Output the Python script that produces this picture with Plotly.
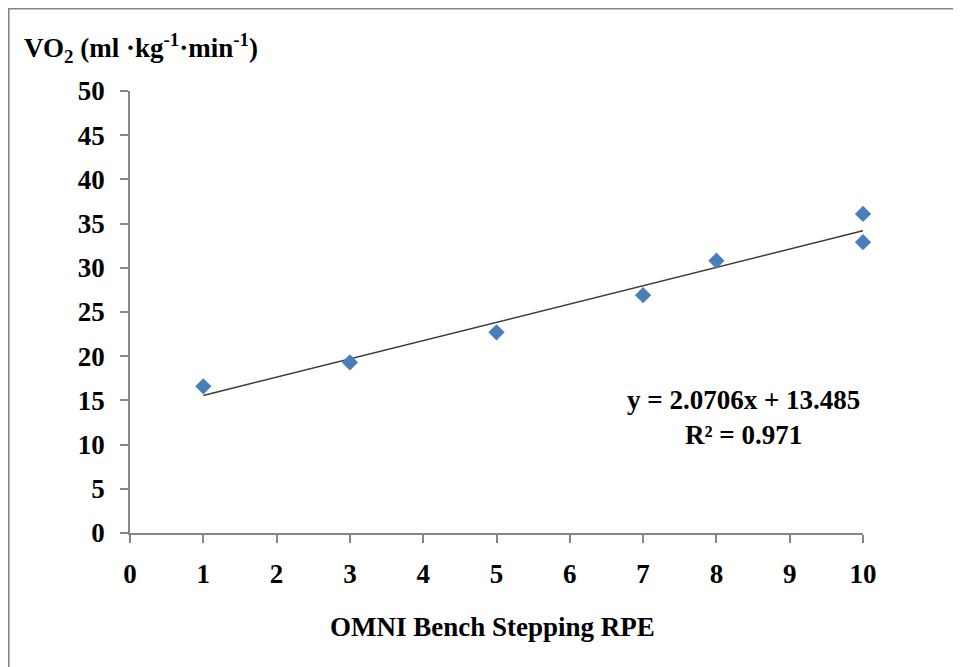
import plotly.graph_objects as go

# Data
rpe = [1, 3, 5, 7, 8, 10, 10]
vo2 = [16.6, 19.3, 22.7, 26.9, 30.8, 36.1, 32.9]

# Linear trendline as reported on the chart
slope = 2.0706
intercept = 13.485
r_squared = 0.971

x_ticks = list(range(0, 11))
y_ticks = list(range(0, 51, 5))

# The page body has an 8px default margin, so the figure is drawn 8px in.
OFF = 8
W, H = 961 - OFF, 667 - OFF
L, R, T, B = 122, 98, 83, 134

FONT = "Liberation Serif, Times New Roman, serif"
FS = 27
AXIS_COLOR = "#868686"

trend_x = [min(rpe), max(rpe)]
trend_y = [slope * x + intercept for x in trend_x]

fig = go.Figure()
fig.add_trace(go.Scatter(
    x=trend_x, y=trend_y, mode="lines",
    line=dict(color="#3a3a3a", width=1.5),
    hoverinfo="skip", showlegend=False, cliponaxis=False,
))
fig.add_trace(go.Scatter(
    x=rpe, y=vo2, mode="markers",
    marker=dict(symbol="diamond", size=12.5, color="#4A7EBB",
                line=dict(width=0)),
    showlegend=False, cliponaxis=False,
))

pw = W - L - R
ph = H - T - B
def px_x(px):
    # page pixel -> paper x
    return (px - OFF - L) / pw
def px_y(py):
    # page pixel -> paper y
    return (H - B - (py - OFF)) / ph

# Outer border (gray left & top edges)
fig.add_shape(type="line", xref="paper", yref="paper",
              x0=px_x(7), x1=px_x(975),
              y0=px_y(8.5), y1=px_y(8.5),
              line=dict(color="#858585", width=2.2))
fig.add_shape(type="line", xref="paper", yref="paper",
              x0=px_x(8.5), x1=px_x(8.5),
              y0=px_y(7.5), y1=px_y(690),
              line=dict(color="#858585", width=2.2))

fig.add_annotation(
    xref="paper", yref="paper",
    x=px_x(22), y=px_y(48),
    xanchor="left", yanchor="middle", showarrow=False,
    text="<b>VO<sub>2</sub> (ml ·kg<sup>-1</sup>·min<sup>-1</sup>)</b>",
    font=dict(family=FONT, size=FS, color="black"),
)
fig.add_annotation(
    xref="paper", yref="paper",
    x=px_x(492), y=px_y(627),
    xanchor="center", yanchor="middle", showarrow=False,
    text="<b>OMNI Bench Stepping RPE</b>",
    font=dict(family=FONT, size=FS, color="black"),
)
fig.add_annotation(
    xref="paper", yref="paper",
    x=px_x(743), y=px_y(417),
    xanchor="center", yanchor="middle", showarrow=False,
    text=f"<b>y = {slope}x + {intercept}<br>R² = {r_squared}</b>",
    font=dict(family=FONT, size=FS, color="black"),
    align="center",
)

fig.update_layout(
    width=W, height=H, autosize=False,
    margin=dict(l=L, r=R, t=T, b=B),
    paper_bgcolor="white", plot_bgcolor="white",
    font=dict(family=FONT, size=FS, color="black"),
    xaxis=dict(
        range=[0, 10], tickmode="array", tickvals=x_ticks,
        ticktext=[f"<b>{v}</b>" for v in x_ticks],
        showgrid=False, zeroline=False, showline=True,
        linecolor=AXIS_COLOR, linewidth=1.5,
        ticks="outside", ticklen=8, tickcolor=AXIS_COLOR, tickwidth=1.5,
        ticklabelstandoff=8, fixedrange=True,
    ),
    yaxis=dict(
        range=[0, 50], tickmode="array", tickvals=y_ticks,
        ticktext=[f"<b>{v}</b>" for v in y_ticks],
        showgrid=False, zeroline=False, showline=True,
        linecolor=AXIS_COLOR, linewidth=1.5,
        ticks="outside", ticklen=8, tickcolor=AXIS_COLOR, tickwidth=1.5,
        ticklabelstandoff=10, fixedrange=True,
    ),
)

fig.write_html("out.html")
